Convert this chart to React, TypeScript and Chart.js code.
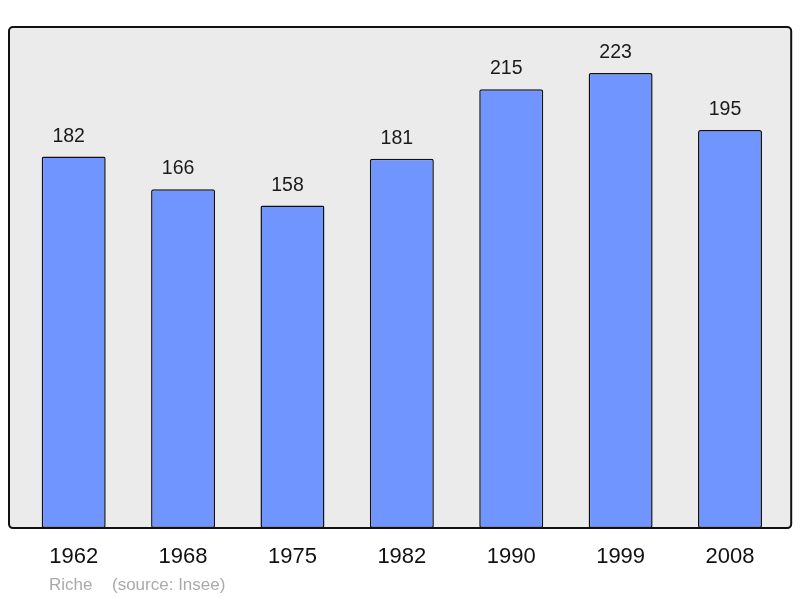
import React, { useEffect, useRef } from "react";
import { Chart, registerables, Plugin } from "chart.js";

Chart.register(...registerables);

const years = ["1962", "1968", "1975", "1982", "1990", "1999", "2008"];
const population = [182, 166, 158, 181, 215, 223, 195];
const footerName = "Riche";
const footerSource = "(source: Insee)";

const FONT = "'Liberation Sans', Arial, sans-serif";

// grey panel with black rounded frame behind the bars
const panelPlugin: Plugin<"bar"> = {
	id: "panel",
	beforeDatasetsDraw(chart) {
		const { ctx, chartArea } = chart;
		ctx.save();
		ctx.beginPath();
		ctx.roundRect(chartArea.left - 10, chartArea.top, chartArea.width + 16.5, chartArea.height, 4);
		ctx.fillStyle = "#ebebeb";
		ctx.fill();
		ctx.restore();
	},
	afterDatasetsDraw(chart) {
		const { ctx, chartArea } = chart;
		ctx.save();
		ctx.beginPath();
		ctx.roundRect(chartArea.left - 10, chartArea.top, chartArea.width + 16.5, chartArea.height, 4);
		ctx.lineWidth = 2;
		ctx.strokeStyle = "#111";
		ctx.stroke();

		// value above each bar (sits a little left of centre in the original)
		const meta = chart.getDatasetMeta(0);
		ctx.fillStyle = "#1a1a1a";
		ctx.font = `19.5px ${FONT}`;
		ctx.textAlign = "center";
		ctx.textBaseline = "alphabetic";
		meta.data.forEach((bar, i) => {
			ctx.fillText(String(population[i]), bar.x - 5, bar.y - 15);
		});

		// footer
		ctx.fillStyle = "#aaaaaa";
		ctx.font = `17px ${FONT}`;
		ctx.textAlign = "left";
		ctx.fillText(footerName, 49, 590);
		ctx.fillText(footerSource, 112, 590);
		ctx.restore();
	},
};

const PopulationChart: React.FC = () => {
	const chartRef = useRef<HTMLCanvasElement>(null);

	useEffect(() => {
		if (!chartRef.current) return;
		const chart = new Chart(chartRef.current, {
			type: "bar",
			data: {
				labels: years,
				datasets: [
					{
						data: population,
						backgroundColor: "#7095ff",
						borderColor: "#111",
						borderWidth: 1.5,
						borderRadius: 2,
						borderSkipped: false,
						barPercentage: 0.585,
						categoryPercentage: 1,
					},
				],
			},
			options: {
				responsive: false,
				animation: false,
				layout: { padding: { left: 19, right: 15.3, top: 27, bottom: 19.5 } },
				plugins: {
					legend: { display: false },
					tooltip: { enabled: false },
				},
				scales: {
					x: {
						grid: { display: false },
						border: { display: false },
						ticks: {
							padding: 8,
							color: "#111",
							font: { size: 22, family: FONT },
						},
					},
					y: {
						display: false,
						min: 0,
						max: 245.5,
					},
				},
			},
			plugins: [panelPlugin],
		});

		return () => {
			chart.destroy();
		};
	}, []);

	return <canvas ref={chartRef} width={800} height={598} style={{ display: "block" }} />;
};

export default function App() {
	return (
		<div style={{ position: "absolute", left: 0, top: 0, width: 800, height: 598, background: "#fff" }}>
			<PopulationChart />
		</div>
	);
}
